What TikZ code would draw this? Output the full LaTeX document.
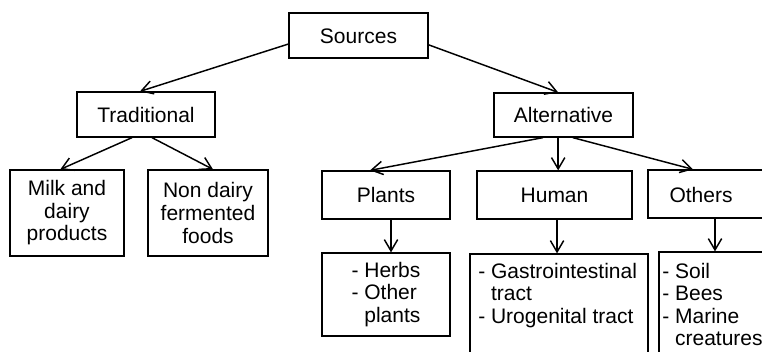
\documentclass[tikz,border=0pt]{standalone}
\usepackage{fontspec}
\setmainfont{Liberation Sans}
\usetikzlibrary{arrows.meta}
\begin{document}
\begin{tikzpicture}[x=0.75pt,y=-0.75pt,
  box/.style={draw, line width=0.95pt, inner sep=0pt, align=center},
  single/.style={text height=11.3pt, text depth=0pt},
  arr/.style={line width=1.1pt, -{Straight Barb[length=8.5pt,width=10pt,line width=1.1pt]}},
  font=\fontsize{15.75}{16.9}\selectfont]
\useasboundingbox (0,0) rectangle (762,351);
\clip (0,0) rectangle (762,351);
% level 0
\node[box, single, minimum width=139*0.75pt, minimum height=45*0.75pt] (src) at (358.5,35.5) {Sources};
% level 1
\node[box, single, minimum width=138*0.75pt, minimum height=45*0.75pt] (trad) at (146,114.5) {Traditional};
\node[box, single, minimum width=139*0.75pt, minimum height=44*0.75pt] (alt) at (563.5,115) {Alternative};
% level 2 traditional
\node[box, minimum width=114*0.75pt, minimum height=86*0.75pt] (milk) at (67,213) {Milk and\\dairy\\products};
\node[box, minimum width=120*0.75pt, minimum height=86*0.75pt] (nd) at (208,213) {Non dairy\\fermented\\foods};
% level 2 alternative
\node[box, single, minimum width=128*0.75pt, minimum height=48*0.75pt] (pl) at (386,195) {Plants};
\node[box, single, minimum width=155*0.75pt, minimum height=48*0.75pt] (hum) at (554.5,195) {Human};
\node[box, minimum width=132*0.75pt, minimum height=48*0.75pt] (oth) at (714,194) {};
\node[single, inner sep=0pt] (othT) at (701,194.5) {Others};
% level 3
\node[box, align=left, minimum width=128*0.75pt, minimum height=83*0.75pt] (herb) at (386,294.5) {- Herbs\\- Other\\\phantom{- }plants};
\node[box, minimum width=178*0.75pt, minimum height=126*0.75pt] (gas) at (559,317) {};
\node[inner sep=0pt, anchor=base west] (gasT) at (478,278) {\begin{tabular}[t]{@{}l@{}}- Gastrointestinal\\\phantom{- }tract\\- Urogenital tract\end{tabular}};
\node[box, minimum width=141*0.75pt, minimum height=128*0.75pt] (othl) at (729.5,316) {};
\node[inner sep=0pt, anchor=base west] (othlT) at (662,278) {\begin{tabular}[t]{@{}l@{}}- Soil\\- Bees\\- Marine\\\phantom{- }creatures\end{tabular}};
% connectors
\draw[arr] ([yshift=-6.4pt]src.west) -- ([xshift=-4.5pt]trad.north);
\draw[arr] ([yshift=-7pt]src.east) -- ([xshift=-4pt]alt.north);
\draw[arr] ([xshift=-10.5pt]trad.south) -- ([xshift=-5pt]milk.north);
\draw[arr] ([xshift=4.5pt]trad.south) -- ([xshift=3.75pt]nd.north);
\draw[arr] ([xshift=-15.4pt]alt.south) -- ([xshift=-12pt]pl.north);
\coordinate (as) at ([xshift=-4pt]alt.south);
\draw[arr] (as) -- (as |- hum.north);
\draw[arr] ([xshift=7pt]alt.south) -- ([xshift=-15.75pt]oth.north);
\coordinate (ps) at ([xshift=3.75pt]pl.south);
\draw[arr] (ps) -- (ps |- herb.north);
\coordinate (hs) at ([xshift=1.9pt]hum.south);
\draw[arr] (hs) -- (hs |- gas.north);
\coordinate (os) at ([xshift=0.75pt]oth.south);
\draw[arr] (os) -- (os |- othl.north);
\end{tikzpicture}
\end{document}
